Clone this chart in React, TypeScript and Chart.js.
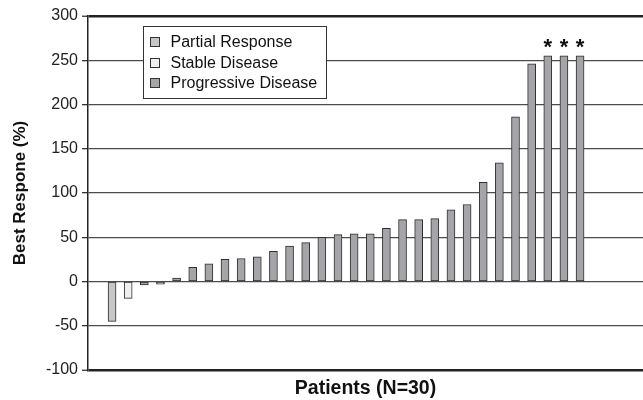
import React, { useEffect, useRef } from "react";
import { Chart, registerables } from "chart.js";

Chart.register(...registerables);

// ---- data ----
const patientPositions = [1, 2, 3, 4, 5, 6, 7, 8, 9, 10, 11, 12, 13, 14, 15, 16, 17, 18, 19, 20, 21, 22, 23, 24, 25, 26, 27, 28, 29, 30];
const bestResponse = [-45, -19, -4, -3, 4, 16, 20, 25, 26, 28, 34, 40, 44, 50, 53, 54, 54, 60, 70, 70, 71, 81, 87, 112, 134, 186, 246, 255, 255, 255];
const responseType = ["PR", "SD", "PD", "PD", "PD", "PD", "PD", "PD", "PD", "PD", "PD", "PD", "PD", "PD", "PD", "PD", "PD", "PD", "PD", "PD", "PD", "PD", "PD", "PD", "PD", "PD", "PD", "PD", "PD", "PD"];
const barMarks = ["", "", "", "", "", "", "", "", "", "", "", "", "", "", "", "", "", "", "", "", "", "", "", "", "", "", "", "*", "*", "*"];
const typeCodes = ["PR", "SD", "PD"];
const typeLabels = ["Partial Response", "Stable Disease", "Progressive Disease"];
const typeColors = ["#c6c6c6", "#efefef", "#a5a5a9"];
const yMin = -100;
const yMax = 300;
const yStep = 50;
const yTitle = "Best Respone (%)";
const xTitle = "Patients (N=30)";

const FONT = "'Liberation Sans', Arial, Helvetica, sans-serif";

const legendBoxPlugin = {
  id: "legendBox",
  afterDraw(chart: any) {
    const ctx = chart.ctx;
    const area = chart.chartArea;
    const bx = area.left + 55.5;
    const by = 26.5;
    const bw = 183;
    const bh = 72;
    ctx.save();
    ctx.fillStyle = "#ffffff";
    ctx.fillRect(bx, by, bw, bh);
    ctx.strokeStyle = "#333333";
    ctx.lineWidth = 1;
    ctx.strokeRect(bx, by, bw, bh);
    ctx.font = `16px ${FONT}`;
    ctx.textBaseline = "middle";
    ctx.textAlign = "left";
    chart.data.datasets.forEach((ds: any, i: number) => {
      const cy = by + 15.5 + i * 20.5;
      ctx.fillStyle = ds.backgroundColor;
      ctx.fillRect(bx + 7, Math.round(cy - 5) + 0.5, 9, 9);
      ctx.strokeStyle = "#333333";
      ctx.strokeRect(bx + 7, Math.round(cy - 5) + 0.5, 9, 9);
      ctx.fillStyle = "#111111";
      ctx.fillText(ds.label, bx + 27, cy + 1);
    });
    ctx.restore();
  },
};

const marksPlugin = {
  id: "barMarks",
  afterDatasetsDraw(chart: any) {
    const ctx = chart.ctx;
    const xs = chart.scales.x;
    const ys = chart.scales.y;
    ctx.save();
    ctx.font = `bold 22px ${FONT}`;
    ctx.fillStyle = "#111111";
    ctx.textAlign = "center";
    ctx.textBaseline = "alphabetic";
    barMarks.forEach((m, i) => {
      if (!m) return;
      const x = xs.getPixelForValue(patientPositions[i]);
      const y = ys.getPixelForValue(bestResponse[i]);
      ctx.fillText(m, x, y - 2);
    });
    ctx.restore();
  },
};

export default function App() {
  const ref = useRef<HTMLCanvasElement | null>(null);

  useEffect(() => {
    if (!ref.current) return;
    const datasets = typeCodes.map((code, t) => ({
      label: typeLabels[t],
      data: patientPositions
        .map((p, i) => ({ x: p, y: bestResponse[i], c: responseType[i] }))
        .filter((d) => d.c === code)
        .map((d) => ({ x: d.x, y: d.y })),
      backgroundColor: typeColors[t],
      borderColor: "#2e2e2e",
      borderWidth: 1,
      borderSkipped: false,
      barThickness: 8,
      grouped: false,
    }));

    const chart = new Chart(ref.current, {
      type: "bar",
      data: { datasets } as any,
      plugins: [marksPlugin, legendBoxPlugin],
      options: {
        animation: false,
        responsive: false,
        maintainAspectRatio: false,
        layout: { padding: { left: 10, top: 16, right: 0, bottom: 0 } },
        plugins: {
          legend: { display: false },
          tooltip: { enabled: false },
        },
        scales: {
          x: {
            type: "linear",
            offset: false,
            bounds: "ticks",
            min: -0.49,
            max: 33.9,
            ticks: { display: false },
            grid: { display: false, drawTicks: false, offset: false },
            border: { display: false },
            title: {
              display: true,
              text: xTitle,
              color: "#111111",
              font: { family: FONT, size: 19.5, weight: "bold" },
              padding: 0,
            },
            afterFit(scale: any) {
              scale.height = 30;
            },
          },
          y: {
            min: yMin,
            max: yMax,
            ticks: {
              stepSize: yStep,
              color: "#222222",
              padding: 4,
              font: { family: FONT, size: 16 },
            },
            grid: {
              color: (c: any) => (c.tick && (c.tick.value === yMax || c.tick.value === yMin) ? "#222222" : "#4d4d4d"),
              lineWidth: (c: any) => (c.tick && (c.tick.value === yMax || c.tick.value === yMin) ? 2.5 : 1.3),
              tickColor: "#333333",
              tickLength: 6,
              tickWidth: 1.3,
              drawTicks: true,
            },
            border: { display: true, color: "#222222", width: 1.5 },
            title: {
              display: true,
              text: yTitle,
              color: "#111111",
              font: { family: FONT, size: 17, weight: "bold" },
              padding: 0,
            },
            afterFit(scale: any) {
              scale.width = 78;
            },
          },
        },
      } as any,
    });
    return () => chart.destroy();
  }, []);

  return (
    <div style={{ position: "fixed", left: 0, top: 0, width: 643, height: 400, background: "#ffffff" }}>
      <canvas ref={ref} width={643} height={400} />
    </div>
  );
}
